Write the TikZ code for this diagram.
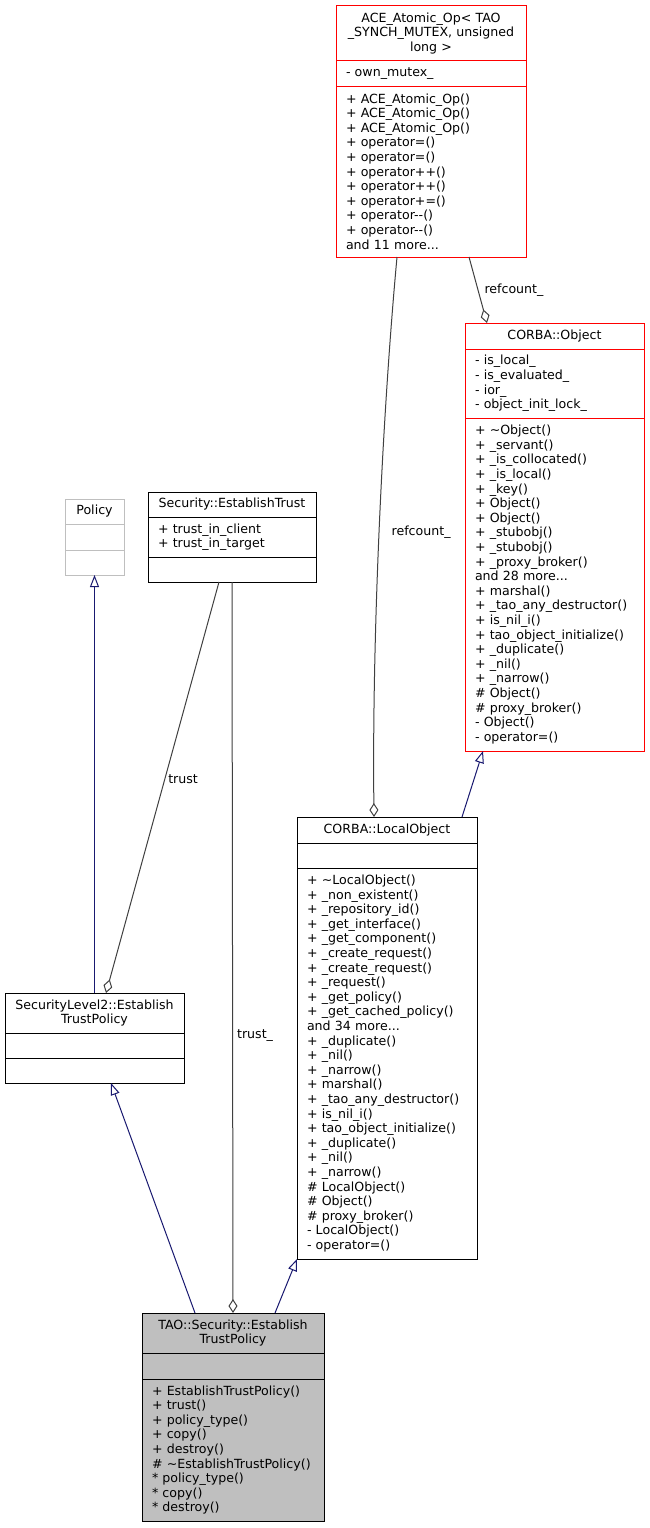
\documentclass[tikz,border=0pt]{standalone}
\usepackage{fontspec}
\setmainfont{DejaVu Sans}
\usetikzlibrary{arrows.meta, positioning, calc}
\definecolor{boxred}{HTML}{FF0000}
\definecolor{fillgray}{HTML}{BFBFBF}
\definecolor{edgegray}{HTML}{404040}
\definecolor{inhblue}{HTML}{191970}
\tikzset{
    part/.style = {draw, rectangle, inner sep=0pt, outer sep=0pt, line width=1pt,
                   font=\fontsize{12.6}{14.6}\selectfont},
    head/.style = {part, align=center},
    body/.style = {part, align=left},
    cls/.style 2 args = {minimum width=#1, text width=#2},
    red box/.style = {draw=boxred},
    lbl/.style = {inner sep=0pt, font=\fontsize{12.6}{14.6}\selectfont},
    aggr/.style = {draw=edgegray, line width=1pt, -{Diamond[open, length=14pt, width=9pt]}},
    inherit/.style = {draw=inhblue, line width=1pt, -{Triangle[open, length=12pt, width=9pt]}}
    }

\begin{document}
\begin{tikzpicture}[x=1pt, y=-1pt]
    \path[use as bounding box, fill=white] (0,0) rectangle (649,1528);

    % ACE_Atomic_Op
    \node[head, red box, cls={190pt}{170pt}, minimum height=55pt, anchor=north west] (ace) at (336,6)
        {ACE\_Atomic\_Op< TAO\\\_SYNCH\_MUTEX, unsigned\\long >};
    \node[body, red box, cls={190pt}{170pt}, minimum height=25pt, below=0pt of ace] (ace-attr)
        {-~own\_mutex\_};
    \node[body, red box, cls={190pt}{170pt}, minimum height=171pt, below=0pt of ace-attr] (ace-ops)
        {+~ACE\_Atomic\_Op()\\+~ACE\_Atomic\_Op()\\+~ACE\_Atomic\_Op()\\+~operator=()\\+~operator=()\\
         +~operator++()\\+~operator++()\\+~operator+=()\\+~operator-{}-()\\+~operator-{}-()\\and 11 more...};

    % CORBA::Object
    \node[head, red box, cls={179pt}{159pt}, minimum height=26pt, anchor=north west] (obj) at (465,323)
        {CORBA::Object};
    \node[body, red box, cls={179pt}{159pt}, minimum height=69pt, below=0pt of obj] (obj-attr)
        {-~is\_local\_\\-~is\_evaluated\_\\-~ior\_\\-~object\_init\_lock\_};
    \node[body, red box, cls={179pt}{159pt}, minimum height=333pt, below=0pt of obj-attr] (obj-ops)
        {+~\textasciitilde Object()\\+~\_servant()\\+~\_is\_collocated()\\+~\_is\_local()\\+~\_key()\\
         +~Object()\\+~Object()\\+~\_stubobj()\\+~\_stubobj()\\+~\_proxy\_broker()\\and 28 more...\\
         +~marshal()\\+~\_tao\_any\_destructor()\\+~is\_nil\_i()\\+~tao\_object\_initialize()\\
         +~\_duplicate()\\+~\_nil()\\+~\_narrow()\\\#~Object()\\\#~proxy\_broker()\\-~Object()\\-~operator=()};

    % Policy
    \node[head, draw=fillgray, cls={59pt}{39pt}, minimum height=25pt, anchor=north west] (policy) at (65,499)
        {Policy};
    \node[body, draw=fillgray, cls={59pt}{39pt}, minimum height=26pt, below=0pt of policy] (policy-attr) {};
    \node[body, draw=fillgray, cls={59pt}{39pt}, minimum height=25pt, below=0pt of policy-attr] (policy-ops) {};

    % Security::EstablishTrust
    \node[head, cls={168pt}{148pt}, minimum height=25pt, anchor=north west] (trust) at (148,492)
        {Security::EstablishTrust};
    \node[body, cls={168pt}{148pt}, minimum height=40pt, below=0pt of trust] (trust-attr)
        {+~trust\_in\_client\\+~trust\_in\_target};
    \node[body, cls={168pt}{148pt}, minimum height=25pt, below=0pt of trust-attr] (trust-ops) {};

    % CORBA::LocalObject
    \node[head, cls={180pt}{160pt}, minimum height=26pt, anchor=north west] (lobj) at (297,817)
        {CORBA::LocalObject};
    \node[body, cls={180pt}{160pt}, minimum height=25pt, below=0pt of lobj] (lobj-attr) {};
    \node[body, cls={180pt}{160pt}, minimum height=391pt, below=0pt of lobj-attr] (lobj-ops)
        {+~\textasciitilde LocalObject()\\+~\_non\_existent()\\+~\_repository\_id()\\+~\_get\_interface()\\
         +~\_get\_component()\\+~\_create\_request()\\+~\_create\_request()\\+~\_request()\\
         +~\_get\_policy()\\+~\_get\_cached\_policy()\\and 34 more...\\+~\_duplicate()\\+~\_nil()\\
         +~\_narrow()\\+~marshal()\\+~\_tao\_any\_destructor()\\+~is\_nil\_i()\\+~tao\_object\_initialize()\\
         +~\_duplicate()\\+~\_nil()\\+~\_narrow()\\\#~LocalObject()\\\#~Object()\\\#~proxy\_broker()\\
         -~LocalObject()\\-~operator=()};

    % SecurityLevel2::EstablishTrustPolicy
    \node[head, cls={179pt}{159pt}, minimum height=40pt, anchor=north west] (sl2) at (5,993)
        {SecurityLevel2::Establish\\TrustPolicy};
    \node[body, cls={179pt}{159pt}, minimum height=25pt, below=0pt of sl2] (sl2-attr) {};
    \node[body, cls={179pt}{159pt}, minimum height=25pt, below=0pt of sl2-attr] (sl2-ops) {};

    % TAO::Security::EstablishTrustPolicy
    \node[head, fill=fillgray, cls={182pt}{162pt}, minimum height=40pt, anchor=north west] (tao) at (142,1313)
        {TAO::Security::Establish\\TrustPolicy};
    \node[body, fill=fillgray, cls={182pt}{162pt}, minimum height=26pt, below=0pt of tao] (tao-attr) {};
    \node[body, fill=fillgray, cls={182pt}{162pt}, minimum height=142pt, below=0pt of tao-attr] (tao-ops)
        {+~EstablishTrustPolicy()\\+~trust()\\+~policy\_type()\\+~copy()\\+~destroy()\\
         \#~\textasciitilde EstablishTrustPolicy()\\{*}~policy\_type()\\{*}~copy()\\{*}~destroy()};

    % connectors
    \draw[aggr] ([xshift=133pt]ace-ops.south west) -- ([xshift=22pt]obj.north west)
        node[lbl, pos=0.5, right=6pt] {refcount\_};
    \draw[aggr] ([xshift=61pt]ace-ops.south west) .. controls +(-15,163) and +(-2,-177) .. ([xshift=77pt]lobj.north west)
        node[lbl, pos=0.5, right=12pt] {refcount\_};
    \draw[inherit] ([xshift=165pt]lobj.north west) -- ([xshift=18pt]obj-ops.south west);
    \draw[inherit] (policy-ops.south |- sl2.north) -- (policy-ops.south);
    \draw[aggr] ([xshift=71pt]trust-ops.south west) -- ([xshift=101pt]sl2.north west)
        node[lbl, pos=0.48, right=3pt] {trust};
    \draw[aggr] ([xshift=84pt]trust-ops.south west) -- ([xshift=91pt]tao.north west)
        node[lbl, pos=0.62, right=4pt] {trust\_};
    \draw[inherit] ([xshift=53pt]tao.north west) -- ([xshift=106pt]sl2-ops.south west);
    \draw[inherit] ([xshift=133pt]tao.north west) -- (lobj-ops.south west);
\end{tikzpicture}
\end{document}
